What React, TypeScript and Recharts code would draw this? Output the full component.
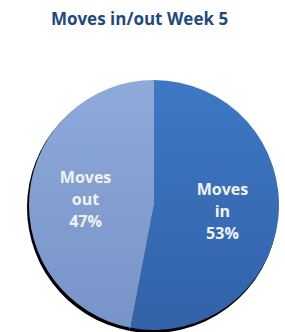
import { PieChart, Pie, Cell } from "recharts"

const sliceNames = ["Moves in", "Moves out"]
const sliceLines = [["Moves", "in"], ["Moves", "out"]]
const sliceValues = [53, 47]
const sliceColors = ["url(#gradIn)", "url(#gradOut)"]

const data = sliceNames.map((name, i) => ({ name, value: sliceValues[i], lines: sliceLines[i] }))

const RAD = Math.PI / 180

function renderLabel(props: any) {
  const { cx, cy, midAngle, outerRadius, percent, index } = props
  const r = outerRadius * 0.55
  const x = cx + r * Math.cos(-midAngle * RAD)
  const y = cy + r * Math.sin(-midAngle * RAD)
  const lines = [...data[index].lines, `${Math.round(percent * 100)}%`]
  return (
    <text
      x={x}
      y={y}
      fill="#f2f2f2"
      textAnchor="middle"
      fontFamily="'Open Sans', sans-serif"
      fontWeight="bold"
      fontSize={16}
    >
      {lines.map((l, i) => (
        <tspan key={i} x={x} dy={i === 0 ? -16 : 22}>
          {l}
        </tspan>
      ))}
    </text>
  )
}

export default function App() {
  return (
    <div style={{ position: "absolute", left: 0, top: 0, width: 285, height: 332, background: "#fff" }}>
      <div
        style={{
          position: "absolute",
          left: 0,
          top: 7,
          width: 279,
          textAlign: "center",
          fontFamily: "'Open Sans', sans-serif",
          fontWeight: "bold",
          fontSize: 17,
          color: "#1f4a80",
        }}
      >
        Moves in/out Week 5
      </div>
      <PieChart width={285} height={332}>
        <defs>
          <linearGradient id="gradIn" x1="0" y1="0" x2="0" y2="1">
            <stop offset="0%" stopColor="#3e78c4" />
            <stop offset="100%" stopColor="#3262a8" />
          </linearGradient>
          <linearGradient id="gradOut" x1="0" y1="0" x2="0" y2="1">
            <stop offset="0%" stopColor="#8daad9" />
            <stop offset="100%" stopColor="#7893c8" />
          </linearGradient>
        </defs>
        {/* dark rim behind the pie */}
        <Pie
          data={data}
          dataKey="value"
          cx={147.5}
          cy={202.5}
          outerRadius={125.5}
          startAngle={90}
          endAngle={-270}
          fill="#000"
          stroke="none"
          label={false}
          labelLine={false}
          isAnimationActive={false}
        />
        <Pie
          data={data}
          dataKey="value"
          nameKey="name"
          cx={149}
          cy={200}
          outerRadius={125}
          startAngle={90}
          endAngle={-270}
          stroke="none"
          labelLine={false}
          label={renderLabel}
          isAnimationActive={false}
        >
          {data.map((d, i) => (
            <Cell key={d.name} fill={sliceColors[i]} />
          ))}
        </Pie>
      </PieChart>
    </div>
  )
}
